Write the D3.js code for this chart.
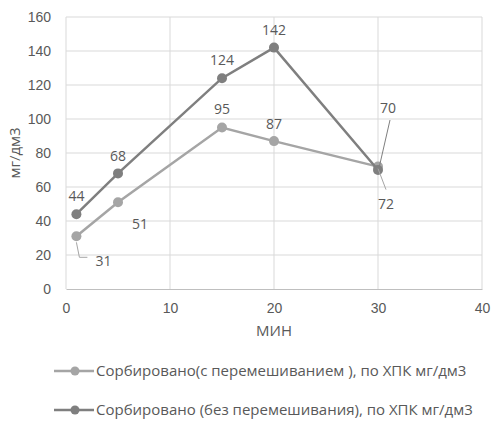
<!DOCTYPE html>
<html>
<head>
<meta charset="utf-8">
<script src="https://cdn.jsdelivr.net/npm/d3@7"></script>
<style>
  body { margin: 0; background: #fff; }
  svg { font-family: "Open Sans", sans-serif; }
  .axis text { fill: #595959; font-size: 14px; }
  .label { fill: #595959; font-size: 14px; }
</style>
</head>
<body>
<div id="chart"></div>
<script>
const minutes = [1, 5, 15, 20, 30];
const withMixing = [31, 51, 95, 87, 72];
const withoutMixing = [44, 68, 124, 142, 70];
const seriesNames = [
  "Сорбировано(с перемешиванием ), по ХПК мг/дм3",
  "Сорбировано (без перемешивания), по ХПК мг/дм3",
];
const xTicks = [0, 10, 20, 30, 40];
const yTicks = [0, 20, 40, 60, 80, 100, 120, 140, 160];

const width = 492;
const height = 422;
const margin = { top: 17, right: 10, bottom: 133, left: 66 };

const x = d3.scaleLinear().domain([0, 40]).range([margin.left, width - margin.right]);
const y = d3.scaleLinear().domain([0, 160]).range([height - margin.bottom, margin.top]);

const svg = d3.select("#chart").append("svg").attr("width", width).attr("height", height);

// grid
svg.append("g")
  .selectAll("line.h")
  .data(yTicks.slice(1))
  .join("line")
  .attr("x1", x(0)).attr("x2", x(40))
  .attr("y1", (d) => y(d)).attr("y2", (d) => y(d))
  .attr("stroke", "#d9d9d9");
svg.append("g")
  .selectAll("line.v")
  .data(xTicks)
  .join("line")
  .attr("x1", (d) => x(d)).attr("x2", (d) => x(d))
  .attr("y1", y(0)).attr("y2", y(160))
  .attr("stroke", "#d9d9d9");

const xAxisG = svg.append("g")
  .attr("class", "axis")
  .attr("transform", `translate(0,${y(0)})`)
  .call(d3.axisBottom(x).tickValues(xTicks).tickSize(0).tickPadding(14));
xAxisG.select(".domain").attr("stroke", "#bfbfbf");

const yAxisG = svg.append("g")
  .attr("class", "axis")
  .attr("transform", `translate(${x(0)},0)`)
  .call(d3.axisLeft(y).tickValues(yTicks).tickSize(0).tickPadding(15));
yAxisG.select(".domain").remove();

svg.append("text")
  .attr("class", "label")
  .attr("x", (x(0) + x(40)) / 2)
  .attr("y", 336)
  .attr("text-anchor", "middle")
  .style("font-size", "15px")
  .text("МИН");

svg.append("text")
  .attr("class", "label")
  .attr("transform", `translate(20,${(y(0) + y(160)) / 2}) rotate(-90)`)
  .attr("text-anchor", "middle")
  .style("font-size", "15px")
  .text("мг/дм3");

const series = [
  { values: withMixing, color: "#a5a5a5", name: seriesNames[0] },
  { values: withoutMixing, color: "#7f7f7f", name: seriesNames[1] },
];

const line = d3.line().x((d) => x(d[0])).y((d) => y(d[1]));

series.forEach((s) => {
  const pts = minutes.map((m, i) => [m, s.values[i]]);
  svg.append("path")
    .datum(pts)
    .attr("fill", "none")
    .attr("stroke", s.color)
    .attr("stroke-width", 2.5)
    .attr("d", line);
  svg.append("g")
    .selectAll("circle")
    .data(pts)
    .join("circle")
    .attr("cx", (d) => x(d[0]))
    .attr("cy", (d) => y(d[1]))
    .attr("r", 5)
    .attr("fill", s.color);
});

// data labels: offsets relative to point
const labelOffsets = [
  [[27, 25], [22, 22], [0, -18], [0, -17], [8, 37]],
  [[0, -18], [0, -17], [0, -18], [0, -18], [10, -62]],
];
series.forEach((s, si) => {
  svg.append("g")
    .selectAll("text")
    .data(minutes)
    .join("text")
    .attr("class", "label")
    .attr("x", (d, i) => x(d) + labelOffsets[si][i][0])
    .attr("y", (d, i) => y(s.values[i]) + labelOffsets[si][i][1])
    .attr("dy", "0.35em")
    .attr("text-anchor", "middle")
    .text((d, i) => s.values[i]);
});

// leader lines
const p31 = [x(minutes[0]), y(withMixing[0])];
svg.append("path")
  .attr("d", `M${p31[0]},${p31[1] + 6}L${p31[0] + 3},${p31[1] + 21}L${p31[0] + 11},${p31[1] + 21}`)
  .attr("fill", "none").attr("stroke", "#a5a5a5");
const p72 = [x(minutes[4]), y(withMixing[4])];
svg.append("line")
  .attr("x1", p72[0]).attr("y1", p72[1] + 2)
  .attr("x2", p72[0] + 8).attr("y2", p72[1] + 23)
  .attr("stroke", "#a5a5a5");
const p70 = [x(minutes[4]), y(withoutMixing[4])];
svg.append("line")
  .attr("x1", p70[0] + 1).attr("y1", p70[1] - 2)
  .attr("x2", p70[0] + 12).attr("y2", p70[1] - 50)
  .attr("stroke", "#7f7f7f");

// legend
const legend = svg.append("g")
  .selectAll("g")
  .data(series)
  .join("g")
  .attr("transform", (d, i) => `translate(54,${371 + i * 39})`);
legend.append("line")
  .attr("x1", 0).attr("x2", 40)
  .attr("stroke", (d) => d.color)
  .attr("stroke-width", 2.5);
legend.append("circle")
  .attr("cx", 21).attr("r", 4.5)
  .attr("fill", (d) => d.color);
legend.append("text")
  .attr("class", "label")
  .attr("x", 42)
  .attr("dy", "0.35em")
  .style("font-size", "15px")
  .text((d) => d.name);
</script>
</body>
</html>
